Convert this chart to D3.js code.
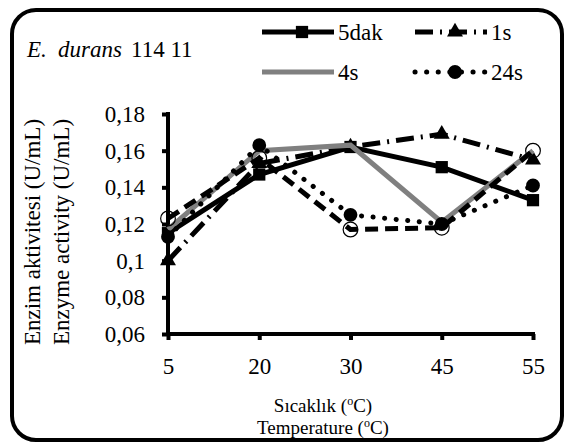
<!DOCTYPE html>
<html>
<head>
<meta charset="utf-8">
<script src="https://cdn.jsdelivr.net/npm/d3@7"></script>
<style>
  html, body { margin: 0; padding: 0; background: #fff; }
  svg { display: block; }
</style>
</head>
<body>
<svg id="chart" width="567" height="443"></svg>
<script>
// Temperature categories (°C) and tick values
const categories = ["5", "20", "30", "45", "55"];
const yTicks = [0.06, 0.08, 0.10, 0.12, 0.14, 0.16, 0.18];

// Enzyme activity (U/mL) per pre-incubation time
const values5dak = [0.115, 0.147, 0.162, 0.151, 0.133];
const values1s   = [0.100, 0.153, 0.162, 0.169, 0.155];
const values4s   = [0.117, 0.160, 0.163, 0.121, 0.160];
const values24s  = [0.113, 0.163, 0.125, 0.120, 0.141];
const values48s  = [0.123, 0.156, 0.117, 0.118, 0.160];

const seriesNames = ["5dak", "1s", "4s", "24s", "48s"];

const FONT = 23;
const SERIF = "'Liberation Serif'";
const svg = d3.select("#chart");

const x = d3.scalePoint().domain(categories).range([168, 533]);
const y = d3.scaleLinear().domain([0.06, 0.18]).range([334, 114]);

const locale = d3.formatLocale({ decimal: ",", thousands: ".", grouping: [3], currency: ["", ""] });
const fmt = locale.format(".2~f");

// Rounded frame
svg.append("rect")
  .attr("x", 12).attr("y", 10).attr("width", 550).attr("height", 430)
  .attr("rx", 24).attr("ry", 24)
  .attr("fill", "#fff").attr("stroke", "#000").attr("stroke-width", 4);

// Title: strain name
const title = svg.append("text").attr("y", 57)
  .style("font-family", SERIF).attr("font-size", FONT).attr("fill", "#000");
title.append("tspan").attr("x", 27).style("font-style", "italic").text("E.");
title.append("tspan").attr("x", 58).style("font-style", "italic").text("durans");
title.append("tspan").attr("x", 131).text("114 11");

// Axes
const yAxis = d3.axisLeft(y).tickValues(yTicks).tickSize(6).tickSizeOuter(0).tickPadding(17).tickFormat(fmt);
const xAxis = d3.axisBottom(x).tickSize(6).tickSizeOuter(0).tickPadding(18);

const gy = svg.append("g").attr("transform", "translate(168,0)").call(yAxis);
const gx = svg.append("g").attr("transform", "translate(0,334)").call(xAxis);

[gx, gy].forEach(g => {
  g.attr("font-family", null).attr("font-size", null);
  g.select(".domain").attr("stroke", "#000").attr("stroke-width", 4);
  g.selectAll(".tick line").attr("stroke", "#000").attr("stroke-width", 4);
  g.selectAll(".tick text").style("font-family", SERIF)
    .attr("font-size", FONT).attr("fill", "#000");
});
gx.select(".domain").attr("d", "M166,0H535");
gy.select(".domain").attr("d", "M0,336V112");

// Axis titles
function degreeTitle(label, yPos) {
  const t = svg.append("text").attr("x", 323).attr("y", yPos)
    .style("font-family", SERIF).attr("text-anchor", "middle").attr("font-size", 19);
  t.append("tspan").text(label + " (");
  t.append("tspan").attr("font-size", 12).attr("dy", -7).text("o");
  t.append("tspan").attr("dy", 7).text("C)");
}
degreeTitle("Sıcaklık", 412);
degreeTitle("Temperature", 434);

svg.append("text").attr("transform", "translate(40,232) rotate(-90)")
  .style("font-family", SERIF).attr("text-anchor", "middle").attr("font-size", FONT)
  .text("Enzim aktivitesi (U/mL)");
svg.append("text").attr("transform", "translate(69,232) rotate(-90)")
  .style("font-family", SERIF).attr("text-anchor", "middle").attr("font-size", FONT)
  .text("Enzyme activity (U/mL)");

// Series styles
const styles = {
  "5dak": { stroke: "#000", dash: null, cap: "butt", marker: "square", mfill: "#000" },
  "1s":   { stroke: "#000", dash: "18,7,2,7", cap: "butt", marker: "triangle", mfill: "#000" },
  "4s":   { stroke: "#808080", dash: null, cap: "butt", marker: null, mfill: null },
  "24s":  { stroke: "#000", dash: "0.1,11.5", cap: "round", marker: "circle", mfill: "#000" },
  "48s":  { stroke: "#000", dash: "13,7", cap: "butt", marker: "circle", mfill: "none" }
};

const allValues = {
  "5dak": values5dak, "1s": values1s, "4s": values4s, "24s": values24s, "48s": values48s
};

const symbolOf = m => m === "square" ? d3.symbolSquare : m === "triangle" ? d3.symbolTriangle : d3.symbolCircle;
const line = d3.line().x((d, i) => x(categories[i])).y(d => y(d));

const plot = svg.append("g");
seriesNames.forEach(name => {
  const st = styles[name];
  const vals = allValues[name];
  plot.append("path").datum(vals)
    .attr("d", line)
    .attr("fill", "none")
    .attr("stroke", st.stroke)
    .attr("stroke-width", 5)
    .attr("stroke-linecap", st.cap)
    .attr("stroke-linejoin", "miter")
    .attr("stroke-dasharray", st.dash);
  if (!st.marker) return;
  const size = st.marker === "square" ? 150 : st.marker === "triangle" ? 110 : (st.mfill === "none" ? 170 : 150);
  plot.selectAll(null).data(vals).join("path")
    .attr("transform", (d, i) => `translate(${x(categories[i])},${y(d)})`)
    .attr("d", d3.symbol().type(symbolOf(st.marker)).size(size))
    .attr("fill", st.mfill)
    .attr("stroke", "#000")
    .attr("stroke-width", st.mfill === "none" ? 1.2 : 0);
});

// Legend
const legendItems = [
  { name: "5dak", x: 262, y: 32 },
  { name: "1s",   x: 415, y: 32 },
  { name: "4s",   x: 262, y: 72 },
  { name: "24s",  x: 415, y: 72 }
];
const legend = svg.append("g");
legendItems.forEach(it => {
  const st = styles[it.name];
  legend.append("line")
    .attr("x1", it.x).attr("x2", it.x + 72).attr("y1", it.y).attr("y2", it.y)
    .attr("stroke", st.stroke).attr("stroke-width", 5)
    .attr("stroke-linecap", st.cap)
    .attr("stroke-dasharray", st.dash);
  if (st.marker) {
    legend.append("path")
      .attr("transform", `translate(${it.x + 40},${it.y})`)
      .attr("d", d3.symbol().type(symbolOf(st.marker)).size(st.marker === "triangle" ? 110 : 150))
      .attr("fill", st.mfill);
  }
  legend.append("text").attr("x", it.x + 76).attr("y", it.y + 8)
    .style("font-family", SERIF).attr("font-size", FONT).text(it.name);
});
</script>
</body>
</html>
